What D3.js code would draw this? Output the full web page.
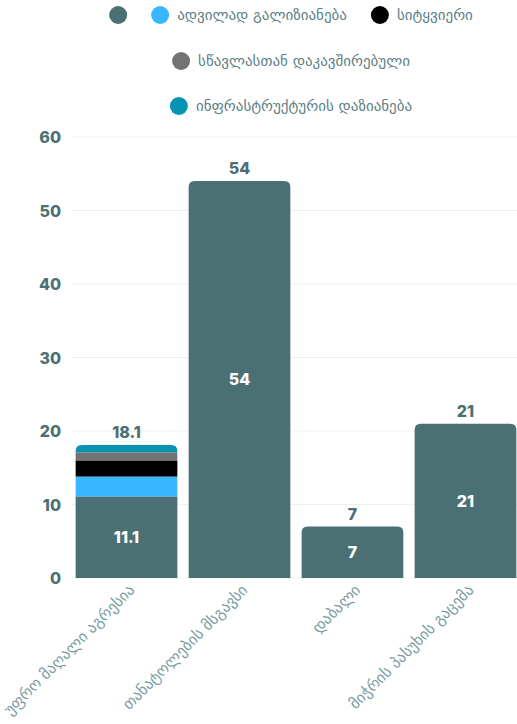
<!DOCTYPE html>
<html><head><meta charset="utf-8">
<script src="https://cdn.jsdelivr.net/npm/d3@7"></script>
<style>
body{margin:0;background:#fff;}
svg{display:block;}
</style></head>
<body><svg id="c" width="517" height="724"></svg>
<script>
const categories = ["უფრო მაღალი აგრესია","თანატოლების მსგავსი","დაბალი","მიჭრის პასუხის გაცემა"];
const seriesNames = ["","ადვილად გალიზიანება","სიტყვიერი","სწავლასთან დაკავშირებული","ინფრასტრუქტურის დაზიანება"];
const seriesColors = ["#4b7074","#38b6ff","#000000","#737373","#0793b4"];
const s0 = [11.1, 54, 7, 21];
const s1 = [2.7, 0, 0, 0];
const s2 = [2.2, 0, 0, 0];
const s3 = [1.1, 0, 0, 0];
const s4 = [1.0, 0, 0, 0];
const yTicks = [0,10,20,30,40,50,60];

const series = [s0,s1,s2,s3,s4];
const svg = d3.select("#c");
const numFont = "Inter, 'Open Sans', sans-serif";
const geoFont = "'DejaVu Sans', sans-serif";
const teal = "#4b7074";

const x = d3.scaleBand().domain(categories).range([70, 522]).paddingInner(0.1).paddingOuter(0.05);
const y = d3.scaleLinear().domain([0,60]).range([578,137]);

// grid
svg.append("g").selectAll("line").data(yTicks).join("line")
  .attr("x1",72).attr("x2",517).attr("y1",d=>y(d)).attr("y2",d=>y(d))
  .attr("stroke","#eef0f0").attr("stroke-width",1);

// y axis
const yAxis = d3.axisLeft(y).tickValues(yTicks).tickSize(0).tickPadding(0);
const ya = svg.append("g").attr("transform","translate(61,0)").call(yAxis);
ya.select(".domain").remove();
ya.selectAll("text").attr("font-family",numFont).attr("font-weight",800)
  .attr("font-size",16).attr("fill",teal).attr("dy","0.36em");

// stacks
const table = categories.map((c,i)=>{const o={cat:c}; series.forEach((s,j)=>o["s"+j]=s[i]); return o;});
const keys = series.map((s,j)=>"s"+j);
const stacked = d3.stack().keys(keys)(table);
const r = 6;
categories.forEach((c,i)=>{
  let topIdx = -1;
  stacked.forEach((layer,j)=>{ if(layer[i][1]-layer[i][0]>0) topIdx=j; });
  stacked.forEach((layer,j)=>{
    const d = layer[i];
    if(d[1]-d[0]<=0) return;
    const x0 = x(c), w = x.bandwidth(), yt = y(d[1]), yb = y(d[0]);
    if(j===topIdx){
      const h = yb-yt;
      const rr = Math.min(r,h);
      svg.append("path").attr("fill",seriesColors[j])
        .attr("d",`M${x0},${yb}V${yt+rr}Q${x0},${yt} ${x0+rr},${yt}H${x0+w-rr}Q${x0+w},${yt} ${x0+w},${yt+rr}V${yb}Z`);
    } else {
      svg.append("rect").attr("x",x0).attr("y",yt).attr("width",w).attr("height",yb-yt).attr("fill",seriesColors[j]);
    }
  });
  const d0 = stacked[0][i];
  svg.append("text").attr("x",x(c)+x.bandwidth()/2).attr("y",(y(d0[0])+y(d0[1]))/2)
    .attr("dy","0.36em").attr("text-anchor","middle").attr("font-family",numFont)
    .attr("font-weight",800).attr("font-size",16).attr("fill","#fff").text(d3.format("~g")(s0[i]));
  const total = d3.sum(series, s=>s[i]);
  svg.append("text").attr("x",x(c)+x.bandwidth()/2).attr("y",y(total)-7)
    .attr("text-anchor","middle").attr("font-family",numFont)
    .attr("font-weight",800).attr("font-size",16).attr("fill",teal)
    .text(d3.format("~g")(Math.round(total*10)/10));
});

// x labels
svg.append("g").selectAll("text").data(categories).join("text")
  .attr("transform",d=>`translate(${x(d)+x.bandwidth()/2+9},${591}) rotate(-45)`)
  .attr("text-anchor","end").attr("font-family",geoFont).attr("font-size",15.5)
  .attr("fill","#7b9da1").text(d=>d);

// legend
const rows = [[0,1,2],[3],[4]];
const rowY = [15,61,106];
const legCenter = 291;
rows.forEach((row,ri)=>{
  const g = svg.append("g");
  let cx = 0;
  row.forEach((k,n)=>{
    if(n>0) cx += 24;
    const it = g.append("g").attr("transform",`translate(${cx},0)`);
    it.append("circle").attr("cx",9).attr("cy",0).attr("r",9).attr("fill",seriesColors[k]);
    let w = 18;
    if(seriesNames[k]){
      const t = it.append("text").attr("x",26).attr("y",0).attr("dy","0.35em")
        .attr("font-family",geoFont).attr("font-size",15).attr("fill","#5d8085").text(seriesNames[k]);
      w = 26 + t.node().getComputedTextLength();
    }
    cx += w;
  });
  g.attr("transform",`translate(${legCenter-cx/2},${rowY[ri]})`);
});
</script></body></html>
